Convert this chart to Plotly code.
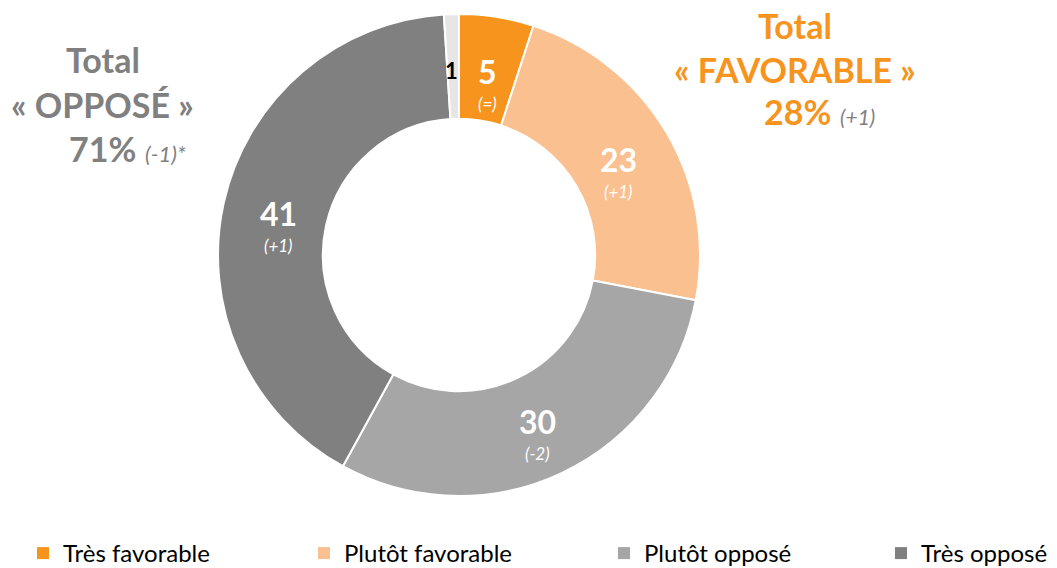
import math

import plotly.graph_objects as go

# data
categories = ["Très favorable", "Plutôt favorable", "Plutôt opposé", "Très opposé", "NSP"]
values = [5, 23, 30, 41, 1]
changes = ["(=)", "(+1)", "(-2)", "(+1)", ""]
colors = ["#F7941D", "#FAC090", "#A6A6A6", "#808080", "#E6E6E6"]
legend_items = ["Très favorable", "Plutôt favorable", "Plutôt opposé", "Très opposé"]

W, H = 1057, 568
OFF = 8  # page body margin
FONT = "Lato"
ORANGE = "#F7941D"
GREY = "#808080"


def to_paper(X, Y):
    # screen pixel -> paper coords (figure sits OFF px from the page corner)
    return (X - OFF) / W, (H - (Y - OFF)) / H


# donut placement (screen pixels)
cx, cy, R = 459, 255, 241
x0, y0 = to_paper(cx - R, cy + R)
x1, y1 = to_paper(cx + R, cy - R)

fig = go.Figure()
fig.add_trace(
    go.Pie(
        labels=categories,
        values=values,
        marker=dict(colors=colors, line=dict(color="white", width=2)),
        hole=0.565,
        sort=False,
        direction="clockwise",
        rotation=0,
        textinfo="none",
        hoverinfo="label+value",
        showlegend=False,
        domain=dict(x=[x0, x1], y=[y0, y1]),
    )
)

# legend entries: one legend box per item so they spread like the original
legend_x = [15, 296, 596, 873]
legend_names = ["legend", "legend2", "legend3", "legend4"]
for name, col, lg in zip(legend_items, colors, legend_names):
    fig.add_trace(
        go.Scatter(
            x=[None], y=[None], mode="markers", name=name, legend=lg,
            marker=dict(symbol="square", size=12, color=col),
        )
    )

# slice labels: number on the slice bisector, change just below it
total = sum(values)
start = 0
r_lab = 185
for v, ch in zip(values, changes):
    mid = (start + v / 2) / total * 2 * math.pi
    start += v
    xp, yp = to_paper(cx + r_lab * math.sin(mid), cy - r_lab * math.cos(mid))
    if ch:
        fig.add_annotation(x=xp, y=yp, text=f"<b>{v}</b>", yshift=1,
                           font=dict(family=FONT, size=32, color="white"))
        fig.add_annotation(x=xp, y=yp, text=f"<i>{ch}</i>", yshift=-31,
                           font=dict(family=FONT, size=17, color="white"))
    else:
        fig.add_annotation(x=xp - 2 / W, y=yp, text=f"<b>{v}</b>",
                           font=dict(family=FONT, size=22, color="black"))


# totals
def txt(X, Y, text, color, size=34):
    xp, yp = to_paper(X, Y)
    fig.add_annotation(x=xp, y=yp, text=text, font=dict(family=FONT, size=size, color=color))


txt(103, 59, "<b>Total</b>", GREY)
txt(102, 104, "<b>« OPPOSÉ »</b>", GREY)
txt(127, 149, "<b>71%</b> <span style='font-size:22px'><i>(-1)*</i></span>", GREY)

txt(795, 25, "<b>Total</b>", ORANGE)
txt(795, 69, "<b>« FAVORABLE »</b>", ORANGE)
txt(819, 112, f"<b>28%</b> <span style='font-size:21px;color:{GREY}'><i>(+1)</i></span>", ORANGE)

fig.update_annotations(xref="paper", yref="paper", showarrow=False,
                       xanchor="center", yanchor="middle")

legend_style = dict(
    orientation="h", xanchor="left", y=0, yanchor="bottom",
    font=dict(family=FONT, size=24, color="black"),
    bgcolor="rgba(0,0,0,0)",
)
fig.update_layout(
    width=W, height=H,
    margin=dict(l=0, r=0, t=0, b=0),
    paper_bgcolor="white", plot_bgcolor="white",
    xaxis=dict(visible=False), yaxis=dict(visible=False),
    **{lg: dict(x=lx / W, **legend_style) for lg, lx in zip(legend_names, legend_x)},
)

fig.write_html("out.html")
